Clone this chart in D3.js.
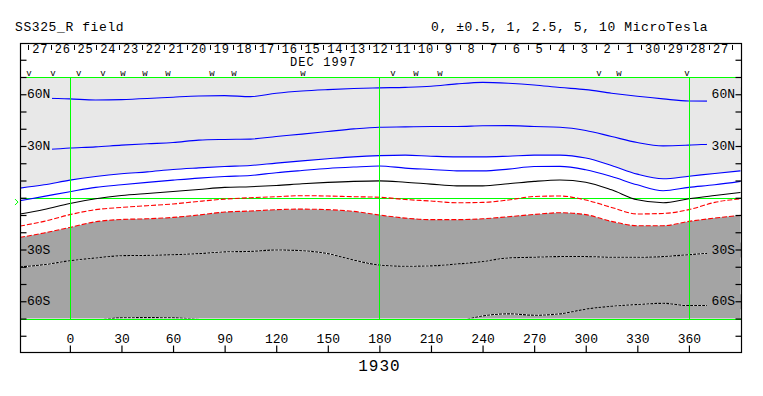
<!DOCTYPE html>
<html>
<head>
<meta charset="utf-8">
<script src="https://cdn.jsdelivr.net/npm/d3@7"></script>
<style>
  body { margin: 0; background: #fff; }
  svg text { font-family: "Liberation Mono", monospace; fill: #000; }
</style>
</head>
<body>
<div id="chart"></div>
<script>
// carrington longitude samples (deg) and contour latitudes (deg)
var lons    = [-29,-15,0,15,30,45,60,75,90,105,120,135,150,165,180,195,210,225,240,255,270,285,300,315,330,345,360,375,390];
var pos5    = [57.5,57.7,57.3,56.7,56.9,57.5,58.3,59.0,59.2,58.6,60.6,61.9,62.7,63.3,63.7,64.0,64.6,66.0,66.9,66.4,65.4,63.9,62.7,60.6,58.8,57.3,56.1,56.0,56.0];
var pos25   = [27.8,27.95,28.8,29.5,30.5,31.3,32.0,33.4,33.8,34.0,35.5,36.9,38.4,39.9,40.9,41.1,41.3,41.3,41.7,41.8,41.3,40.9,39.0,35.5,32.0,30.1,30.5,31.2,31.5];
var pos1    = [5.6,7.5,10.2,12.3,13.9,15.0,16.4,17.3,18.1,18.7,20.1,21.4,22.6,23.7,24.4,24.7,24.1,23.7,23.7,24.1,24.7,24.7,23.0,18.7,13.7,11.0,12.5,14.1,15.6];
var pos05   = [-1.7,0.8,3.5,6.0,7.5,8.9,10.2,11.4,12.3,12.9,14.5,15.8,17.0,17.8,18.4,17.2,16.4,15.6,15.6,16.6,18.1,18.2,16.2,12.3,7.5,4.1,6.0,7.5,9.5];
var neutral = [-9.4,-6.8,-3.3,-0.6,1.3,2.5,3.6,4.8,6.0,6.4,7.1,8.1,8.9,9.5,9.8,9.0,7.9,6.9,6.9,8.1,9.5,10.3,9.0,4.6,-1.2,-2.9,-0.6,1.3,3.1];
var neg05   = [-16.4,-13.7,-9.8,-6.9,-5.6,-4.6,-3.6,-2.1,-0.8,0.0,0.6,1.2,1.0,0.6,0.3,-1.0,-1.9,-2.9,-2.7,-1.3,0.75,1.0,-1.3,-5.6,-9.4,-9.1,-6.9,-2.7,-0.6];
var neg1    = [-23.0,-20.4,-17.2,-13.9,-12.6,-12.2,-11.4,-10.0,-8.3,-7.7,-6.9,-6.6,-6.9,-7.9,-10.0,-11.8,-12.7,-12.7,-12.2,-11.0,-9.7,-8.7,-9.8,-13.7,-16.2,-16.2,-13.7,-11.8,-10.2];
var neg25   = [-40.1,-38.8,-36.5,-34.9,-33.6,-33.4,-33.0,-32.4,-31.4,-31.1,-30.3,-30.7,-32.4,-36.1,-39.0,-39.7,-39.5,-38.4,-37.0,-34.9,-34.5,-34.1,-34.1,-34.5,-34.5,-34.1,-33.0,-32.1,-32.0];
var neg5    = [-72,-72,-72,-71,-69.6,-69.5,-69.6,-70.5,-72,-72,-72,-72,-72,-72,-72,-72,-72,-71.5,-68.5,-67.3,-68.1,-67.3,-64.6,-62.9,-61.9,-61.2,-62.5,-62.5,-62.5];

var lonTicks = [0,30,60,90,120,150,180,210,240,270,300,330,360];
var latTicks = [-80,-70,-60,-50,-40,-30,-20,-10,0,10,20,30,40,50,60,70,80];
var latLabels = [{lat: 60, t: "60N"}, {lat: 30, t: "30N"}, {lat: -30, t: "30S"}, {lat: -60, t: "60S"}];
var dayLabels = [27,28,29,30,1,2,3,4,5,6,7,8,9,10,11,12,13,14,15,16,17,18,19,20,21,22,23,24,25,26,27];
var markerLons  = [-23.8,-9.9,5.2,19.2,30.8,43.6,57,82.6,95.4,135.5,187.9,201.2,215.2,307.7,319.3,358.8];
var markerTypes = ["v","v","v","v","w","w","w","w","w","w","v","w","w","v","w","v"];
var greenLons = [0, 180, 360];
var earthLat = -2.5;
var rotation = "1930";
var monthLabel = "DEC 1997", monthLon = 128;
var firstDayLon = 385.0, degPerDay = 13.199;

var w = 763, h = 396;
var left = 20, right = 741, boxTop = 43, plotTop = 77, plotBottom = 318.5, axisBottom = 352;

var svg = d3.select("#chart").append("svg").attr("width", w).attr("height", h);

var x = d3.scaleLinear().domain([-29, 390]).range([left, right - 0.5]);
var y = d3.scaleLinear().domain([70, -70]).range([plotTop, plotBottom]);

svg.append("defs").append("clipPath").attr("id", "plot")
  .append("rect").attr("x", left).attr("y", plotTop).attr("width", right - left).attr("height", plotBottom - plotTop);

var curve = d3.curveMonotoneX;
function pts(vals) { return lons.map(function(l, i) { return [l, vals[i]]; }); }

var plot = svg.append("g").attr("clip-path", "url(#plot)");

// shading |B| > 1
plot.append("path")
  .datum(pts(pos1))
  .attr("fill", "#e8e8e8")
  .attr("d", d3.area().curve(curve).x(function(d){ return x(d[0]); }).y0(y(75)).y1(function(d){ return y(d[1]); }));
plot.append("path")
  .datum(pts(neg1))
  .attr("fill", "#a4a4a4")
  .attr("d", d3.area().curve(curve).x(function(d){ return x(d[0]); }).y0(y(-75)).y1(function(d){ return y(d[1]); }));

// green equator
plot.append("line").attr("x1", left).attr("x2", right).attr("y1", Math.round(y(0)) + 0.5).attr("y2", Math.round(y(0)) + 0.5)
  .attr("stroke", "#00ff00").attr("stroke-width", 1.2);

var line = d3.line().curve(curve).x(function(d){ return x(d[0]); }).y(function(d){ return y(d[1]); });

var contours = [
  {v: pos5, c: "#0000ff"}, {v: pos25, c: "#0000ff"}, {v: pos1, c: "#0000ff"}, {v: pos05, c: "#0000ff"},
  {v: neutral, c: "#000000"},
  {v: neg05, c: "#ff0000", dash: "5,2"}, {v: neg1, c: "#ff0000", dash: "5,2"},
  {v: neg25, c: "#000000", dash: "3,1", under: "#ffffff"}, {v: neg5, c: "#000000", dash: "3,1", under: "#ffffff"}
];
contours.forEach(function(k) {
  if (k.under) {
    plot.append("path").datum(pts(k.v)).attr("d", line).attr("fill", "none")
      .attr("stroke", k.under).attr("stroke-width", 1.1);
  }
  plot.append("path").datum(pts(k.v)).attr("d", line).attr("fill", "none")
    .attr("stroke", k.c).attr("stroke-width", 1.1)
    .attr("stroke-dasharray", k.dash || null);
});

// latitude labels with background masks
latLabels.forEach(function(d) {
  var bg = d.lat > 0 ? "#e8e8e8" : "#a4a4a4";
  var yy = y(d.lat);
  plot.append("rect").attr("x", left + 1).attr("y", yy - 7).attr("width", 31).attr("height", 15).attr("fill", bg);
  plot.append("rect").attr("x", right - 34).attr("y", yy - 7).attr("width", 34).attr("height", 15).attr("fill", bg);
  svg.append("text").attr("x", left + 7).attr("y", yy + 4).attr("font-size", "13px").text(d.t);
  svg.append("text").attr("x", right - 6).attr("y", yy + 4).attr("font-size", "13px").attr("text-anchor", "end").text(d.t);
});

// green longitude markers and plot edges
greenLons.forEach(function(l) {
  svg.append("line").attr("x1", Math.round(x(l)) + 0.5).attr("x2", Math.round(x(l)) + 0.5)
    .attr("y1", plotTop).attr("y2", plotBottom).attr("stroke", "#00ff00").attr("stroke-width", 1)
    .attr("shape-rendering", "crispEdges");
});
[plotTop, plotBottom].forEach(function(py) {
  svg.append("line").attr("x1", left).attr("x2", right).attr("y1", Math.round(py) + 0.5).attr("y2", Math.round(py) + 0.5)
    .attr("stroke", "#00ff00").attr("stroke-width", 1.2);
});

// earth latitude marker
var ey = y(earthLat);
svg.append("path")
  .attr("d", d3.line()([[left - 5, ey - 3], [left - 2, ey], [left - 5, ey + 3]]))
  .attr("fill", "none").attr("stroke", "#00ff00").attr("stroke-width", 1);

// frame
svg.append("rect").attr("x", left + 0.5).attr("y", boxTop + 0.5).attr("width", right - left).attr("height", axisBottom - boxTop)
  .attr("fill", "none").attr("stroke", "#000").attr("stroke-width", 1.2);

// latitude ticks on both sides
svg.append("g").attr("transform", "translate(" + (left + 0.5) + ",0)")
  .call(d3.axisRight(y).tickValues(latTicks).tickSize(6).tickFormat(""))
  .call(function(g){ g.select(".domain").remove(); g.selectAll("line").attr("stroke-width", 1.2); });
svg.append("g").attr("transform", "translate(" + (right + 0.5) + ",0)")
  .call(d3.axisLeft(y).tickValues(latTicks).tickSize(6).tickFormat(""))
  .call(function(g){ g.select(".domain").remove(); g.selectAll("line").attr("stroke-width", 1.2); });

// longitude axis
var xAxis = svg.append("g").attr("transform", "translate(0," + (axisBottom + 0.5) + ")")
  .call(d3.axisTop(x).tickValues(lonTicks).tickSize(7).tickPadding(3).tickFormat(d3.format("d")));
xAxis.select(".domain").remove();
xAxis.selectAll("line").attr("stroke-width", 1.2);
xAxis.selectAll("text").attr("font-size", "13px").attr("font-family", "Liberation Mono, monospace").attr("fill", "#000");

// day labels (time runs right to left)
function dayLon(i) { return firstDayLon - i * degPerDay; }
for (var i = 0; i <= dayLabels.length; i++) {
  var bx = Math.round(x(dayLon(i))) + 0.5;
  svg.append("line").attr("x1", bx).attr("x2", bx).attr("y1", boxTop + 2).attr("y2", boxTop + 7)
    .attr("stroke", "#000").attr("stroke-width", 1);
}
svg.selectAll(".day").data(dayLabels).enter().append("text")
  .attr("class", "day")
  .attr("x", function(d, i){ return x(dayLon(i + 0.5)) + 0.5; })
  .attr("y", boxTop + 10)
  .attr("text-anchor", "middle")
  .attr("font-size", "12px")
  .attr("letter-spacing", "0.8px")
  .text(function(d){ return d; });

svg.append("text").attr("x", x(monthLon)).attr("y", boxTop + 23).attr("font-size", "12px")
  .attr("letter-spacing", "1.1px").text(monthLabel);

svg.selectAll(".mk").data(markerLons).enter().append("text")
  .attr("class", "mk")
  .attr("x", function(d){ return x(d); })
  .attr("y", plotTop - 1)
  .attr("text-anchor", "middle")
  .attr("font-size", "9px")
  .text(function(d, i){ return markerTypes[i]; });

// titles
svg.append("text").attr("x", 15).attr("y", 31).attr("font-size", "13px").attr("letter-spacing", "0.6px").text("SS325_R field");
svg.append("text").attr("x", 431).attr("y", 31).attr("font-size", "13px").attr("letter-spacing", "0.6px")
  .text("0, \u00b10.5, 1, 2.5, 5, 10 MicroTesla");
svg.append("text").attr("x", x(180)).attr("y", 371).attr("text-anchor", "middle").attr("font-size", "16px")
  .attr("letter-spacing", "1px").text(rotation);
</script>
</body>
</html>
